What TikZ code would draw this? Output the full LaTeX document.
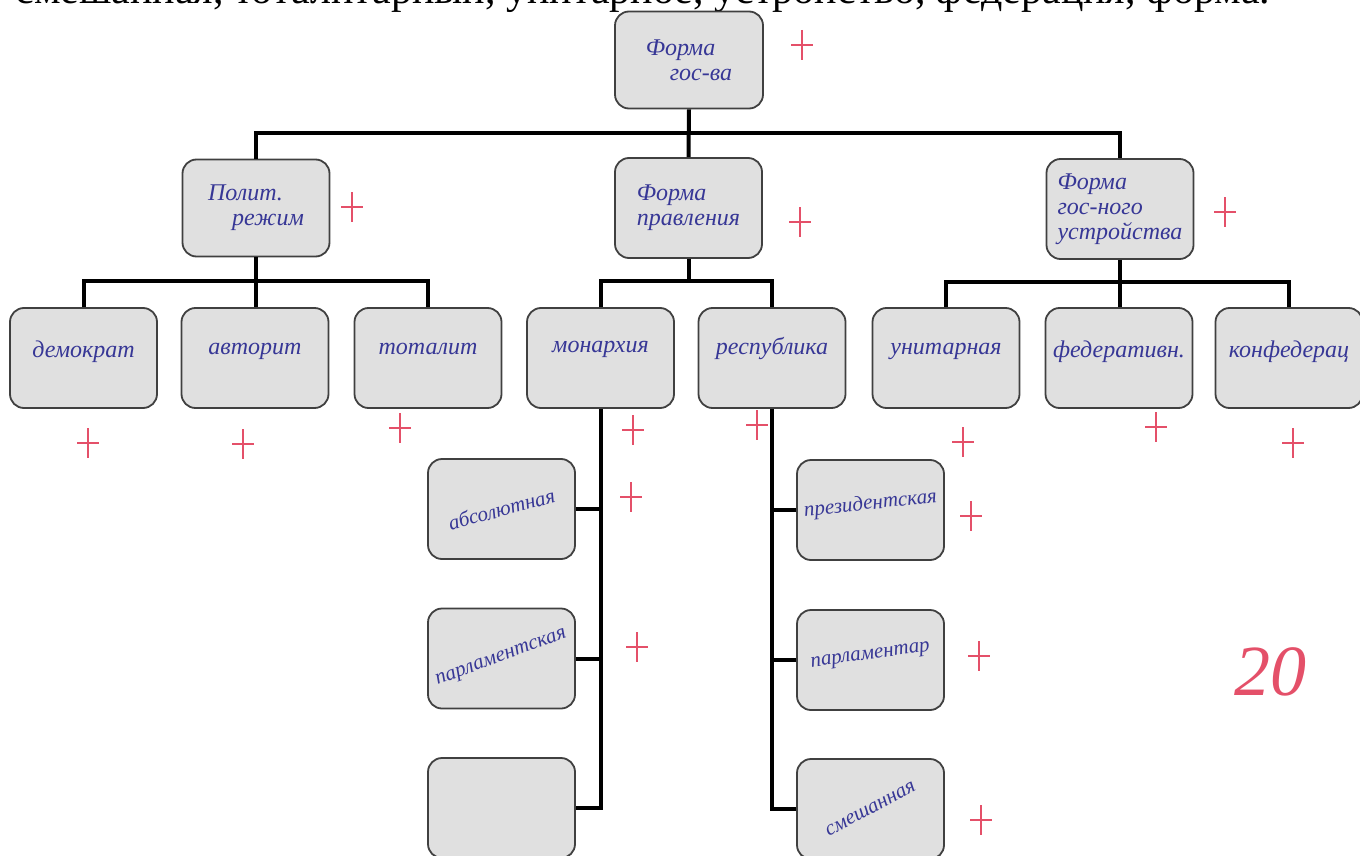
\documentclass[tikz,border=0pt]{standalone}
\usepackage{fontspec}
\setmainfont{Liberation Serif}
\usetikzlibrary{calc}
\definecolor{ink}{RGB}{55,55,150}
\definecolor{redmark}{RGB}{228,80,105}
\definecolor{boxfill}{RGB}{224,224,224}
\newcommand{\hw}{\fontsize{12}{12.5}\selectfont\itshape}
\newcommand{\hws}{\fontsize{10.5}{11}\selectfont\itshape}
\begin{document}
\begin{tikzpicture}[x=0.5pt,y=-0.5pt,
  box/.style={draw=black!75, line width=0.9pt, rounded corners=7pt, fill=boxfill,
    minimum width=73.5pt, minimum height=50pt, inner sep=2pt, font=\hw, text=ink, align=left},
  conn/.style={line width=2pt, draw=black},
  plusmark/.pic={\draw[redmark, line width=0.55pt] (-11,0) -- (11,0) (0,-15) -- (0,15);}
]
\useasboundingbox (0,0) rectangle (1360,856);
% top printed line (cut off at the page edge, as in the scan)
\node[anchor=base west, inner sep=0, font=\fontsize{21}{21}\selectfont] (topline) at (15,4)
  {смешанная, тоталитарный, унитарное, устройство, федерация, форма.};

% level 1
\node[box, minimum height=48.5pt, minimum width=74pt] (root) at (689,60) {Форма\\\quad гос-ва};
% level 2
\node[box, minimum height=48.5pt] (pol) at (256,208) {Полит.\\\quad режим};
\node[box] (prav) at (688.5,208) {Форма\\ правления};
\node[box] (ust) at (1120,209) {Форма\\гос-ного\\устройства};
% level 3
\node[box] (dem) at (83.5,358) {\raisebox{9pt}{демократ}};
\node[box] (avt) at (255,358) {\raisebox{9pt}{авторит}};
\node[box] (tot) at (428,358) {\raisebox{9pt}{тоталит}};
\node[box] (mon) at (600.5,358) {\raisebox{11pt}{монархия}};
\node[box] (resp) at (772,358) {\raisebox{12pt}{республика}};
\node[box] (unit) at (946,358) {\raisebox{9pt}{унитарная}};
\node[box] (fed) at (1119,358) {\raisebox{9pt}{федеративн.}};
\node[box] (konf) at (1289,358) {\raisebox{9pt}{конфедерац}};
% level 4
\node[box, font=\hws] (abs) at (501.5,509) {\rotatebox{15}{абсолютная}};
\node[box, font=\hws] (parl) at (501.5,658.5) {\rotatebox{20}{парламентская}};
\node[box] (empty) at (501.5,808) {};
\node[box, font=\hws] (prez) at (870.5,510) {\raisebox{8pt}{\rotatebox{6}{президентская}}};
\node[box, font=\hws] (parl2) at (870.5,660) {\raisebox{6pt}{\rotatebox{8}{парламентар}}};
\node[box, font=\hws] (smesh) at (870.5,809) {\rotatebox{28}{смешанная}};

% junctions
\coordinate (j1) at (688.5,133);
\coordinate (j2) at (256,281);
\coordinate (j3) at (688.5,281);
\coordinate (j4) at (1120,282);

\draw[conn] (root.south) -- (prav.north);
\draw[conn] (pol.north) |- (j1) -| (ust.north);
\draw[conn] (pol.south) -- (avt.north -| pol.south);
\draw[conn] (dem.north) |- (j2) -| (tot.north);
\draw[conn] (prav.south) -- (j3);
\draw[conn] (mon.north) |- (j3) -| (resp.north);
\draw[conn] (ust.south) -- (fed.north -| ust.south);
\draw[conn] (unit.north) |- (j4) -| (konf.north);
\draw[conn] (mon.south) |- (empty.east);
\draw[conn] (abs.east) -- (abs.east -| mon.south);
\draw[conn] (parl.east) -- (parl.east -| mon.south);
\draw[conn] (resp.south) |- (smesh.west);
\draw[conn] (prez.west) -- (prez.west -| resp.south);
\draw[conn] (parl2.west) -- (parl2.west -| resp.south);

% red marks
\foreach \x/\y in {802/45, 352/207, 800/222, 1225/212, 88/443, 243/444, 400/428,
  633/430, 757/425, 963/442, 1156/427, 1293/443, 631/497, 637/647, 971/516, 979/656, 981/820}
  \pic at (\x,\y) {plusmark};
\node[text=redmark, font=\fontsize{36}{36}\selectfont\itshape, inner sep=0] (grade) at (1270,672) {20};
\end{tikzpicture}
\end{document}
